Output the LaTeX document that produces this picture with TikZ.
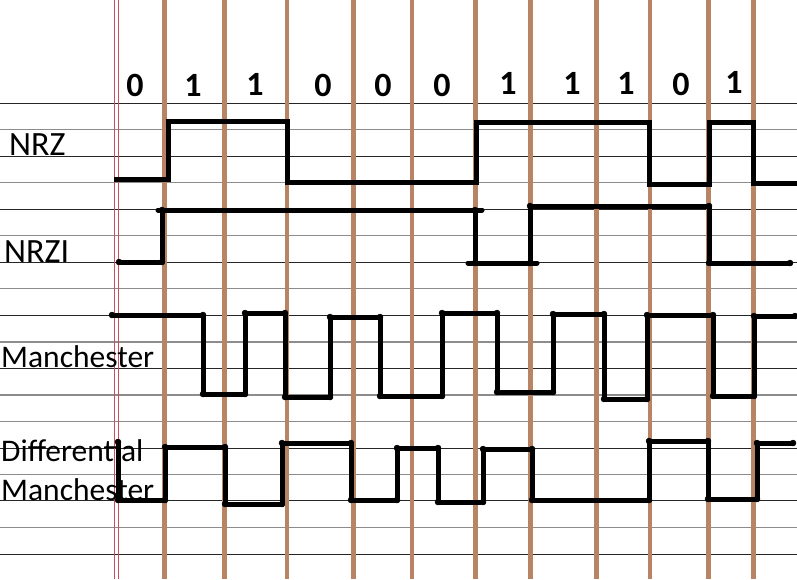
\documentclass[tikz,border=0pt]{standalone}
\usepackage{fontspec}
\setmainfont{Carlito}
\definecolor{clockbrown}{RGB}{184,132,100}
\definecolor{marginred}{RGB}{196,80,96}
\begin{document}
\begin{tikzpicture}[x=1pt,y=-1pt,
  rulingdark/.style={line width=1pt, black!85},
  rulinggray/.style={line width=1.4pt, black!45},
  marginline/.style={line width=0.9pt, marginred},
  clockline/.style={line width=4.6pt, clockbrown},
  wave/.style={line width=5pt, black, line join=round, line cap=round},
  squarewave/.style={line width=5pt, black, line join=miter, line cap=butt},
  dotmarks/.style={mark=*, mark size=3pt, mark options={solid, line width=0.4pt, fill=black}},
  bitlabel/.style={font=\fontsize{34}{34}\selectfont\bfseries, anchor=base, inner sep=0pt},
  siglabel/.style={font=\fontsize{34}{34}\selectfont, anchor=base west, inner sep=0pt},
  smallsiglabel/.style={font=\fontsize{31.5}{31.5}\selectfont, anchor=base west, inner sep=0pt}
]
\useasboundingbox (0,0) rectangle (797,579);
\fill[white] (0,0) rectangle (797,579);

% ruled lines
\foreach \yy in {103,156.2,209.2,262.1,315.2,368.2,448.1,500.9,554}
  \draw[rulingdark] (0,\yy) -- (797,\yy);
\foreach \yy in {129.7,182.6,235.7,288.7,341.8,394.8,421.6,474.6,527.7}
  \draw[rulinggray] (0,\yy) -- (797,\yy);

% clock lines
\foreach \xx in {164.5,224.5,287,353.3,411.8,475.3,530.3,596.3,650,708.5,753.3}
  \draw[clockline] (\xx,0) -- (\xx,579);

% margin lines
\draw[marginline] (114.6,0) -- (114.6,579);
\draw[marginline] (118.8,0) -- (118.8,579);

% bits
\node[bitlabel] (b1) at (135,96.5) {0};
\node[bitlabel] (b2) at (193,96) {1};
\node[bitlabel] (b3) at (255,95.5) {1};
\node[bitlabel] (b4) at (323,96.5) {0};
\node[bitlabel] (b5) at (383,96.5) {0};
\node[bitlabel] (b6) at (442,96.5) {0};
\node[bitlabel] (b7) at (508,94.5) {1};
\node[bitlabel] (b8) at (572,94.5) {1};
\node[bitlabel] (b9) at (626,94.5) {1};
\node[bitlabel] (b10) at (681,95.5) {0};
\node[bitlabel] (b11) at (734,93.5) {1};

% labels
\node[siglabel] (nrz) at (9,155.5) {NRZ};
\node[siglabel] (nrzi) at (4,262) {NRZI};
\node[smallsiglabel] (man) at (1,367) {Manchester};
\node[smallsiglabel] (diff) at (1,461) {Differential};
\node[smallsiglabel] (dman) at (1,500) {Manchester};

% NRZ
\draw[squarewave] (114,179.5) -- (168,179.5) -- (168,121) -- (287,121) -- (287,182.5)
  -- (476,182.5) -- (476,122) -- (649,122) -- (649,184) -- (709,184) -- (709,122)
  -- (753,122) -- (753,183.5) -- (797,183.5);

% NRZI
\draw[wave] plot[dotmarks] coordinates {(119,262) (162,262) (162,210) (475,210)
  (475,263) (530,263) (530,206) (709,206) (709,263) (790,263)};
\draw[wave] (475,210) -- (482,210);
\draw[wave] (468,263) -- (475,263);
\draw[wave] (530,263) -- (537,263);
\draw[wave] (158,210) -- (162,210);

% Manchester
\draw[wave] plot[dotmarks] coordinates {(112,315) (203,315) (203,394) (245,394)
  (245,313) (285,313) (285,397) (330,397) (330,317) (380,317) (380,396) (442,396)
  (442,313) (497,313) (497,392) (553,392) (553,314) (604,314) (604,399) (647,399)
  (647,315) (713,315) (713,396) (754,396) (754,316) (795,316)};

% Differential Manchester
\draw[wave] plot[dotmarks] coordinates {(118,442) (118,500) (165,500) (165,447)
  (225,447) (225,504) (282,504) (282,443) (351,443) (351,500) (397,500) (397,448)
  (438,448) (438,502) (483,502) (483,449) (532,449) (532,500) (649,500) (649,441)
  (708,441) (708,499) (757,499) (757,443) (793,443)};
\end{tikzpicture}
\end{document}
